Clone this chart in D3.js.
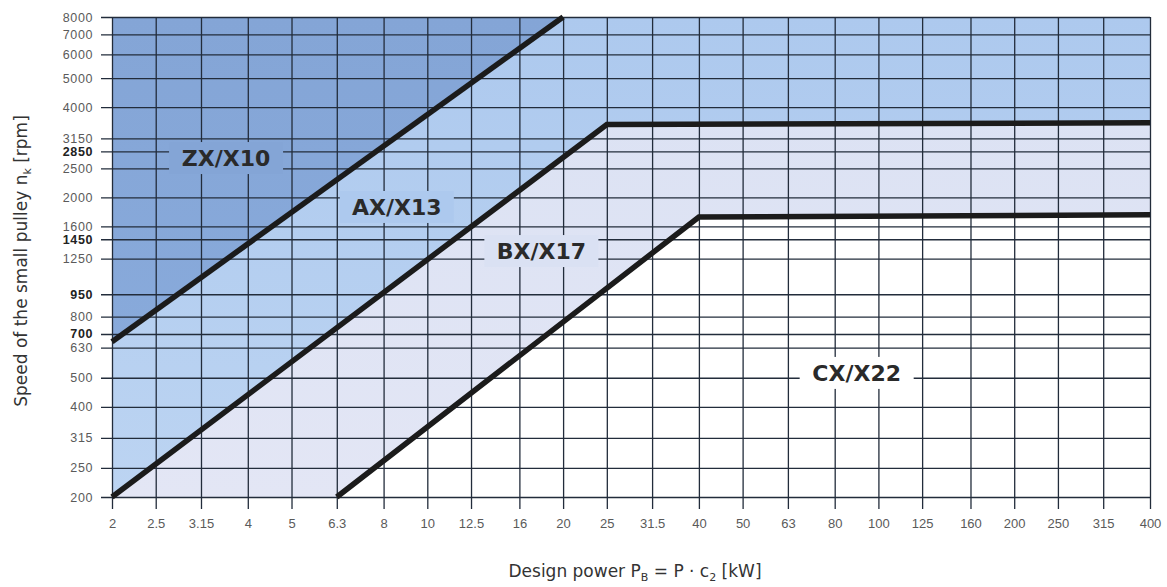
<!DOCTYPE html>
<meta charset="utf-8">
<style>
  body { margin: 0; background: #fff; }
</style>
<svg width="1167" height="587" font-family="'DejaVu Sans', sans-serif"></svg>
<script src="https://cdn.jsdelivr.net/npm/d3@7"></script>
<script>

// design power ticks [kW] and speed ticks [rpm]
var powerTicks = [2, 2.5, 3.15, 4, 5, 6.3, 8, 10, 12.5, 16, 20, 25, 31.5, 40, 50, 63, 80, 100, 125, 160, 200, 250, 315, 400];
var speedTicks = [200, 250, 315, 400, 500, 630, 700, 800, 950, 1250, 1450, 1600, 2000, 2500, 2850, 3150, 4000, 5000, 6000, 7000, 8000];
var boldSpeeds = [700, 950, 1450, 2850];

// section boundaries
var zxLine = [[2, 660], [20, 8000]];
var axLine = [[2, 200], [25, 3500], [400, 3550]];
var bxLine = [[6.3, 200], [40, 1720], [400, 1750]];

var sectionNames = ["ZX/X10", "AX/X13", "BX/X17", "CX/X22"];
var labelPower = [3.58, 8.56, 17.9, 89.5];
var labelSpeed = [2706, 1858, 1324, 519];

var svg = d3.select("svg"),
    plotL = 112, plotR = 1150, plotT = 17, plotB = 497;

var x = d3.scaleLog().domain([2, 400]).range([plotL, plotR]);
var y = d3.scaleLog().domain([200, 8000]).range([plotB, plotT]);

var line = d3.line().x(function(d) { return x(d[0]); }).y(function(d) { return y(d[1]); });

// gradients (user space so the label boxes line up with the fill behind them)
var grads = [
  { id: "gZX", c0: "#84a5d6", c1: "#8aacdd" },
  { id: "gAX", c0: "#adc9ee", c1: "#bcd4f2" },
  { id: "gBX", c0: "#dae1f3", c1: "#e3e6f5" },
  { id: "gCX", c0: "#ffffff", c1: "#ffffff" }
];
var defs = svg.append("defs");
grads.forEach(function(g) {
  var lg = defs.append("linearGradient").attr("id", g.id)
      .attr("gradientUnits", "userSpaceOnUse")
      .attr("x1", 0).attr("y1", plotT).attr("x2", 0).attr("y2", plotB);
  lg.append("stop").attr("offset", 0).attr("stop-color", g.c0);
  lg.append("stop").attr("offset", 1).attr("stop-color", g.c1);
});

var xmin = x.domain()[0], xmax = x.domain()[1], ymin = y.domain()[0], ymax = y.domain()[1];

// area polygons built from the boundaries
var regions = [
  [[xmin, ymin], [xmax, ymin], [xmax, ymax], [xmin, ymax]],
  axLine.concat([[xmax, ymax], [xmin, ymax]]),
  bxLine.concat(axLine.slice().reverse()),
  zxLine.concat([[xmin, ymax]])
];
var regionFill = ["gCX", "gAX", "gBX", "gZX"];

svg.append("g").selectAll("path")
  .data(regions)
  .enter().append("path")
    .attr("d", function(d) { return line(d) + "Z"; })
    .attr("fill", function(d, i) { return "url(#" + regionFill[i] + ")"; });

// grid + axes
var gridColor = "#222c3b";

var yAxis = svg.append("g")
    .attr("transform", "translate(" + plotL + ",0)")
    .call(d3.axisLeft(y).tickValues(speedTicks).tickSizeOuter(0).tickSizeInner(-(plotR - plotL)).tickPadding(20).tickFormat(d3.format("d")));
yAxis.select(".domain").remove();
yAxis.selectAll(".tick line")
    .attr("x1", -11)
    .attr("stroke", gridColor)
    .attr("stroke-width", 1.3);
yAxis.selectAll(".tick text")
    .attr("x", -19)
    .attr("font-size", 12.5)
    .attr("letter-spacing", 0.6)
    .attr("fill", function(d) { return boldSpeeds.indexOf(d) >= 0 ? "#222" : "#5a5a5a"; })
    .attr("font-weight", function(d) { return boldSpeeds.indexOf(d) >= 0 ? "bold" : "normal"; });

var xAxis = svg.append("g")
    .attr("transform", "translate(0," + plotB + ")")
    .call(d3.axisBottom(x).tickValues(powerTicks).tickSizeOuter(0).tickSizeInner(-(plotB - plotT)).tickPadding(22).tickFormat(function(d) { return String(d); }));
xAxis.select(".domain").remove();
xAxis.selectAll(".tick line")
    .attr("y1", 12)
    .attr("stroke", gridColor)
    .attr("stroke-width", 1.3);
xAxis.selectAll(".tick text")
    .attr("y", 22)
    .attr("font-size", 13)
    .attr("fill", "#5a5a5a");

// section boundaries
svg.append("g").selectAll("path")
  .data([zxLine, axLine, bxLine])
  .enter().append("path")
    .attr("d", line)
    .attr("fill", "none")
    .attr("stroke", "#1b1b1b")
    .attr("stroke-width", 5.5);

// section labels with a box that hides the grid behind them
var labelFill = ["gZX", "gAX", "gBX", "gCX"];
var lab = svg.append("g").selectAll("g")
  .data(sectionNames)
  .enter().append("g")
    .attr("transform", function(d, i) { return "translate(" + x(labelPower[i]) + "," + y(labelSpeed[i]) + ")"; });

lab.append("rect")
    .attr("x", -57).attr("y", -16)
    .attr("width", 114).attr("height", 32)
    .attr("fill", function(d, i) { return "url(#" + labelFill[i] + ")"; });

lab.append("text")
    .attr("text-anchor", "middle")
    .attr("dy", "0.36em")
    .attr("font-size", 22)
    .attr("font-weight", "bold")
    .attr("fill", "#2a2a2a")
    .text(function(d) { return d; });

// axis titles
var xt = svg.append("text")
    .attr("x", (plotL + plotR) / 2 + 4)
    .attr("y", 577)
    .attr("text-anchor", "middle")
    .attr("font-size", 17)
    .attr("fill", "#333");
xt.append("tspan").text("Design power P");
xt.append("tspan").attr("font-size", 11).attr("dy", 4).text("B");
xt.append("tspan").attr("dy", -4).text(" = P \u00b7 c");
xt.append("tspan").attr("font-size", 11).attr("dy", 4).text("2");
xt.append("tspan").attr("dy", -4).text(" [kW]");

var yt = svg.append("text")
    .attr("transform", "translate(27," + ((plotT + plotB) / 2 + 4) + ")rotate(-90)")
    .attr("text-anchor", "middle")
    .attr("font-size", 17)
    .attr("fill", "#333");
yt.append("tspan").text("Speed of the small pulley n");
yt.append("tspan").attr("font-size", 11).attr("dy", 4).text("k");
yt.append("tspan").attr("dy", -4).text(" [rpm]");

</script>
